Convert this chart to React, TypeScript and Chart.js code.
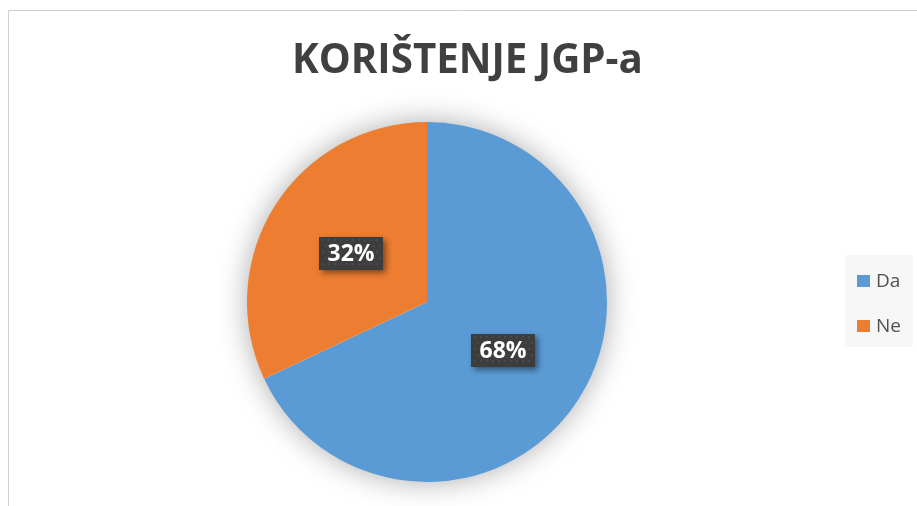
import React, { useEffect, useRef } from "react";
import { Chart, registerables } from "chart.js";

Chart.register(...registerables);

const categories = ["Da", "Ne"];
const values = [68, 32];
const colors = ["#5B9BD5", "#ED7D31"];
const titleText = "KORIŠTENJE JGP-a";

const FONT = "'Open Sans', 'Noto Sans', sans-serif";

function fitFont(ctx: CanvasRenderingContext2D, text: string, weight: string, targetW: number, base: number) {
  ctx.font = `${weight} ${base}px ${FONT}`;
  const w = ctx.measureText(text).width;
  return base * (targetW / w);
}

const piePlugin = {
  id: "custom",
  beforeDraw(chart: any) {
    const ctx = chart.ctx;
    ctx.save();
    ctx.fillStyle = "#ffffff";
    ctx.fillRect(0, 0, chart.width, chart.height);
    // border
    ctx.strokeStyle = "#cfcfcf";
    ctx.lineWidth = 1;
    ctx.beginPath();
    ctx.moveTo(8.5, chart.height);
    ctx.lineTo(8.5, 10.5);
    ctx.lineTo(chart.width, 10.5);
    ctx.stroke();
    // title
    const fs = fitFont(ctx, titleText, "bold", 351, 40);
    ctx.font = `bold ${fs}px ${FONT}`;
    ctx.fillStyle = "#404040";
    ctx.textAlign = "left";
    ctx.textBaseline = "alphabetic";
    ctx.fillText(titleText, 292, 73);
    // legend background
    ctx.fillStyle = "#f7f7f7";
    ctx.fillRect(845, 255, 68, 92);
    // legend items
    ctx.font = `19px ${FONT}`;
    ctx.textBaseline = "middle";
    categories.forEach((c, i) => {
      const y = 281 + i * 45;
      ctx.fillStyle = colors[i];
      ctx.fillRect(857, y - 6, 13, 12);
      ctx.fillStyle = "#505050";
      ctx.fillText(c, 876, y + 1);
    });
    ctx.restore();
  },
  beforeDatasetsDraw(chart: any) {
    const meta = chart.getDatasetMeta(0);
    const arc = meta.data[0];
    if (!arc) return;
    const ctx = chart.ctx;
    ctx.save();
    ctx.shadowColor = "rgba(0,0,0,0.35)";
    ctx.shadowBlur = 30;
    ctx.fillStyle = "#ffffff";
    ctx.beginPath();
    ctx.arc(arc.x, arc.y, arc.outerRadius - 1, 0, Math.PI * 2);
    ctx.fill();
    ctx.restore();
  },
  afterDatasetsDraw(chart: any) {
    const meta = chart.getDatasetMeta(0);
    const ctx = chart.ctx;
    const total = values.reduce((a, b) => a + b, 0);
    meta.data.forEach((el: any, i: number) => {
      const p = el.tooltipPosition();
      const txt = Math.round((values[i] / total) * 100) + "%";
      const w = 64, h = 33;
      const x0 = Math.round(p.x - w / 2), y0 = Math.round(p.y - h / 2);
      ctx.save();
      ctx.shadowColor = "rgba(0,0,0,0.45)";
      ctx.shadowBlur = 6;
      ctx.shadowOffsetX = 3;
      ctx.shadowOffsetY = 3;
      ctx.fillStyle = "#3d3d3d";
      ctx.fillRect(x0, y0, w, h);
      ctx.restore();
      ctx.save();
      ctx.fillStyle = "#4a4a4a";
      for (let yy = y0 + 2; yy < y0 + h - 1; yy += 6) {
        for (let xx = x0 + 2 + (((yy - y0) / 6) % 2) * 3; xx < x0 + w - 1; xx += 6) {
          ctx.fillRect(xx, yy, 2, 2);
        }
      }
      ctx.font = `bold 23px ${FONT}`;
      ctx.fillStyle = "#ffffff";
      ctx.textAlign = "center";
      ctx.textBaseline = "middle";
      ctx.fillText(txt, p.x, p.y + 1);
      ctx.restore();
    });
  },
};

export default function App() {
  const ref = useRef<HTMLCanvasElement>(null);
  useEffect(() => {
    if (!ref.current) return;
    const chart = new Chart(ref.current, {
      type: "pie",
      data: {
        labels: categories,
        datasets: [
          {
            data: values,
            backgroundColor: colors,
            borderWidth: 0,
          },
        ],
      },
      options: {
        animation: false,
        responsive: false,
        maintainAspectRatio: false,
        layout: { padding: { top: 122, bottom: 24, left: 247, right: 310 } },
        plugins: {
          legend: { display: false },
          title: { display: false },
          tooltip: { enabled: false },
        },
      },
      plugins: [piePlugin],
    });
    return () => chart.destroy();
  }, []);
  return (
    <div style={{ position: "absolute", left: 0, top: 0, width: 917, height: 506 }}>
      <canvas ref={ref} width={917} height={506} style={{ display: "block" }} />
    </div>
  );
}
